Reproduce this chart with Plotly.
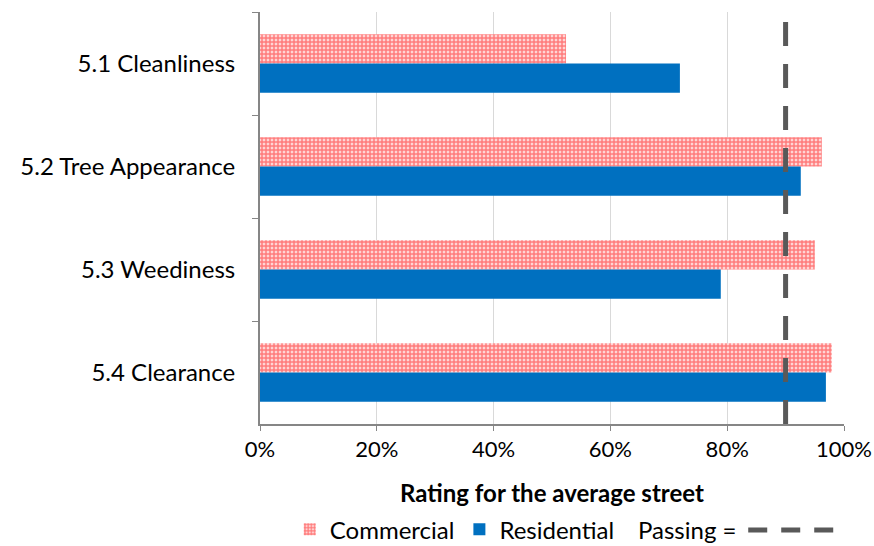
import plotly.graph_objects as go

categories = ["5.1 Cleanliness", "5.2 Tree Appearance", "5.3 Weediness", "5.4 Clearance"]
commercial = [0.524, 0.962, 0.950, 0.979]
residential = [0.719, 0.926, 0.789, 0.969]
passing = 0.90
x_ticks = [0, 0.2, 0.4, 0.6, 0.8, 1.0]
x_ticklabels = ["0%", "20%", "40%", "60%", "80%", "100%"]

FONT = "Lato, Carlito, Calibri, sans-serif"

fig = go.Figure()
fig.add_trace(go.Bar(
    y=categories, x=commercial, name="Commercial", orientation="h",
    marker=dict(color="white", line=dict(width=0),
                pattern=dict(shape=".", fgcolor="#FF0000", bgcolor="white",
                             size=4, solidity=0.78, fillmode="overlay")),
))
fig.add_trace(go.Bar(
    y=categories, x=residential, name="Residential", orientation="h",
    marker=dict(color="#0070C0", line=dict(width=0)),
))

fig.add_vline(x=passing, line=dict(color="#595959", width=5, dash="24px,18px"),
              layer="above")

# custom legend entry for passing line
fig.add_annotation(text="Passing =", xref="paper", yref="paper", x=0.818, y=-0.257,
                   xanchor="right", yanchor="middle", showarrow=False,
                   font=dict(family=FONT, size=24, color="black"))
fig.add_shape(type="line", xref="paper", yref="paper", x0=0.836, x1=0.982,
              y0=-0.257, y1=-0.257, line=dict(color="#595959", width=5, dash="19px,14px"))

fig.update_layout(
    width=874, height=546,
    margin=dict(l=260, r=30, t=12, b=122),
    paper_bgcolor="white", plot_bgcolor="white",
    barmode="group", bargap=0.43, bargroupgap=0,
    font=dict(family=FONT, size=24, color="black"),
    showlegend=True,
    legend=dict(orientation="h", x=0.051, xref="paper", y=0.03, yref="container",
                xanchor="left", yanchor="middle",
                font=dict(family=FONT, size=24), traceorder="normal",
                itemwidth=30, tracegroupgap=0),
    xaxis=dict(range=[0, 1], tickvals=x_ticks, ticktext=x_ticklabels,
               tickfont=dict(family=FONT, size=22),
               showgrid=True, gridcolor="#D9D9D9", gridwidth=1,
               showline=True, linecolor="#868686", linewidth=2,
               ticks="outside", ticklen=5, tickcolor="#868686",
               zeroline=False, automargin=False,
               title=dict(text="<b>Rating for the average street</b>", standoff=30,
                          font=dict(family=FONT, size=24))),
    yaxis=dict(autorange="reversed", categoryorder="array", categoryarray=categories,
               tickfont=dict(family=FONT, size=24),
               showline=True, linecolor="#868686", linewidth=2,
               ticks="outside", ticklen=6, tickcolor="#868686", tickson="boundaries",
               ticklabelstandoff=18, showgrid=False, automargin=False),
)

fig.write_html("out.html")
